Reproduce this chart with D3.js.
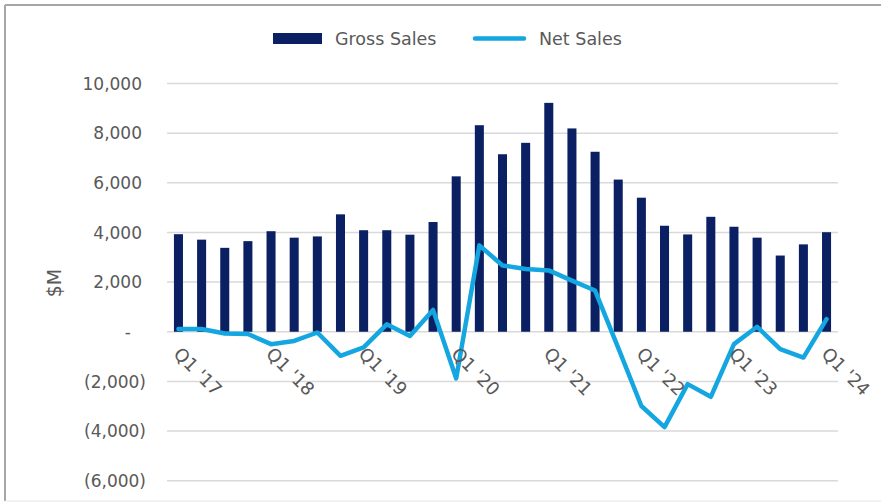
<!DOCTYPE html>
<html>
<head>
<meta charset="utf-8">
<script src="https://cdn.jsdelivr.net/npm/d3@7"></script>
<style>
  body { margin: 0; background: #fff; }
  text { font-family: "DejaVu Sans", sans-serif; fill: #595959; }
</style>
</head>
<body>
<div id="chart"></div>
<script>
// quarters Q1 '17 .. Q1 '24
const quarters = [
  "Q1 '17", "Q2 '17", "Q3 '17", "Q4 '17",
  "Q1 '18", "Q2 '18", "Q3 '18", "Q4 '18",
  "Q1 '19", "Q2 '19", "Q3 '19", "Q4 '19",
  "Q1 '20", "Q2 '20", "Q3 '20", "Q4 '20",
  "Q1 '21", "Q2 '21", "Q3 '21", "Q4 '21",
  "Q1 '22", "Q2 '22", "Q3 '22", "Q4 '22",
  "Q1 '23", "Q2 '23", "Q3 '23", "Q4 '23",
  "Q1 '24"
];
const grossSales = [
  3930, 3710, 3380, 3650, 4050, 3790, 3840, 4730, 4090, 4090, 3910, 4420,
  6260, 8320, 7150, 7610, 9220, 8190, 7250, 6130, 5400, 4270, 3920, 4630,
  4230, 3790, 3070, 3520, 4010
];
const netSales = [
  110, 110, -70, -90, -500, -370, -30, -970, -630, 300, -170, 880,
  -1880, 3480, 2670, 2530, 2470, 2060, 1660, -650, -2990, -3840, -2110, -2620,
  -500, 200, -700, -1040, 510
];
const yTicks = [-6000, -4000, -2000, 0, 2000, 4000, 6000, 8000, 10000];
const xLabels = ["Q1 '17", "Q1 '18", "Q1 '19", "Q1 '20", "Q1 '21", "Q1 '22", "Q1 '23", "Q1 '24"];

const width = 881;
const height = 503;
const navy = "#0a2063";
const cyan = "#14a6e0";

const svg = d3.select("#chart").append("svg")
  .attr("width", width)
  .attr("height", height);

// frame
svg.append("line").attr("x1", 5).attr("x2", width).attr("y1", 5).attr("y2", 5)
  .attr("stroke", "#a6a6a6").attr("stroke-width", 2);
svg.append("line").attr("x1", 5).attr("x2", 5).attr("y1", 5).attr("y2", 501)
  .attr("stroke", "#a6a6a6").attr("stroke-width", 2);
svg.append("line").attr("x1", 5).attr("x2", width).attr("y1", 501).attr("y2", 501)
  .attr("stroke", "#e6e6e6").attr("stroke-width", 1);

const x = d3.scaleBand()
  .domain(quarters)
  .range([167, 838])
  .paddingInner(0.61)
  .paddingOuter(0.3);

const y = d3.scaleLinear()
  .domain([-6000, 10000])
  .range([480.7, 83.5]);

// gridlines
svg.append("g")
  .selectAll("line")
  .data(yTicks)
  .enter().append("line")
  .attr("x1", 167)
  .attr("x2", 838)
  .attr("y1", d => y(d))
  .attr("y2", d => y(d))
  .attr("stroke", "#d9d9d9")
  .attr("stroke-width", 1.5);

// y axis labels
const yAxis = svg.append("g")
  .attr("transform", "translate(167,0)")
  .call(d3.axisLeft(y).tickValues(yTicks).tickSize(0)
    .tickFormat(d => d === 0 ? "-" : d < 0 ? "(" + d3.format(",")(-d) + ")" : d3.format(",")(d)));
yAxis.select(".domain").remove();
yAxis.selectAll("text")
  .attr("x", d => d === 0 ? -36 : d < 0 ? -21 : -25)
  .attr("dy", "0.34em")
  .style("font-family", "DejaVu Sans")
  .style("font-size", "17px")
  .attr("fill", "#595959");

svg.append("text")
  .attr("transform", "translate(61,283) rotate(-90)")
  .attr("text-anchor", "middle")
  .style("font-size", "19px")
  .text("$M");

// bars
svg.append("g")
  .selectAll("rect")
  .data(grossSales)
  .enter().append("rect")
  .attr("x", (d, i) => x(quarters[i]))
  .attr("width", x.bandwidth())
  .attr("y", d => y(d))
  .attr("height", d => y(0) - y(d))
  .attr("fill", navy);

// net sales line
const line = d3.line()
  .x((d, i) => x(quarters[i]) + x.bandwidth() / 2)
  .y(d => y(d));

svg.append("path")
  .datum(netSales)
  .attr("d", line)
  .attr("fill", "none")
  .attr("stroke", cyan)
  .attr("stroke-width", 4.5)
  .attr("stroke-linejoin", "round")
  .attr("stroke-linecap", "round");

// x labels (rotated)
svg.append("g")
  .selectAll("text")
  .data(xLabels)
  .enter().append("text")
  .attr("transform", d => `translate(${x(d) + x.bandwidth() / 2 - 6},355) rotate(45)`)
  .style("font-size", "18px")
  .text(d => d);

// legend
svg.append("rect")
  .attr("x", 273).attr("y", 33)
  .attr("width", 49).attr("height", 11)
  .attr("fill", navy);
svg.append("text")
  .attr("x", 335).attr("y", 45)
  .style("font-size", "17.5px")
  .text("Gross Sales");
svg.append("line")
  .attr("x1", 475).attr("x2", 524)
  .attr("y1", 38.5).attr("y2", 38.5)
  .attr("stroke", cyan)
  .attr("stroke-width", 4.5)
  .attr("stroke-linecap", "round");
svg.append("text")
  .attr("x", 539).attr("y", 45)
  .style("font-size", "17.5px")
  .text("Net Sales");
</script>
</body>
</html>
